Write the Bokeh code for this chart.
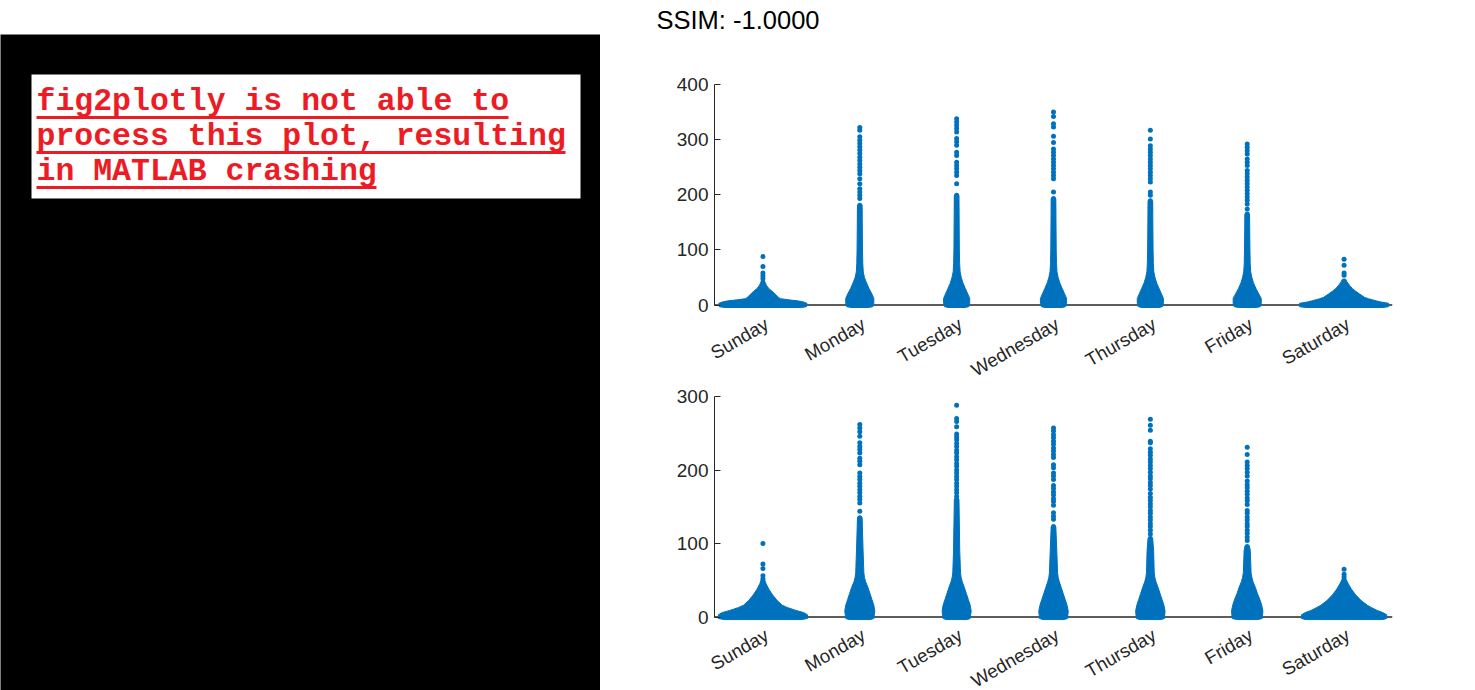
from math import pi
from bokeh.embed import file_html
from bokeh.resources import INLINE
from bokeh.layouts import row, column
from bokeh.models import ColumnDataSource, Div, FixedTicker, LinearAxis, Range1d, Span
from bokeh.plotting import figure
from bokeh.core.properties import value

DAYS = ["Sunday", "Monday", "Tuesday", "Wednesday", "Thursday", "Friday", "Saturday"]
TITLE = "SSIM: -1.0000"
NOTE_LINES = ["fig2plotly is not able to", "process this plot, resulting", "in MATLAB crashing"]
TOP_TICKS = [0, 100, 200, 300, 400]
BOTTOM_TICKS = [0, 100, 200, 300]

# dense body outlines: level (data value) -> half width (in day units)
TOP_WEEKEND_Y = [-4.5, -3, 3, 5.5, 7.5, 9.5, 11.5, 14, 20, 25, 30, 36, 42, 47]
TOP_SUN_HW = [0.40, 0.45, 0.455, 0.42, 0.36, 0.26, 0.18, 0.16, 0.125, 0.095, 0.06, 0.035, 0.02, 0.014]
TOP_SAT_HW = [0.40, 0.46, 0.46, 0.38, 0.33, 0.29, 0.25, 0.21, 0.16, 0.12, 0.085, 0.055, 0.03, 0.016]
TOP_WEEK_Y = [-4.5, -3, 3, 12, 20, 30, 40, 50, 60, 75, 100]
TOP_MON_HW = [0.09, 0.135, 0.145, 0.145, 0.125, 0.095, 0.07, 0.048, 0.036, 0.031, 0.028, 0.024]
TOP_TUE_HW = [0.09, 0.125, 0.135, 0.135, 0.115, 0.09, 0.065, 0.048, 0.036, 0.031, 0.028, 0.024]
TOP_WED_HW = [0.09, 0.125, 0.135, 0.135, 0.115, 0.09, 0.065, 0.048, 0.036, 0.031, 0.028, 0.024]
TOP_THU_HW = [0.09, 0.125, 0.135, 0.135, 0.115, 0.09, 0.065, 0.048, 0.036, 0.031, 0.028, 0.024]
TOP_FRI_HW = [0.09, 0.135, 0.145, 0.145, 0.12, 0.09, 0.065, 0.048, 0.036, 0.031, 0.028, 0.024]
TOP_WEEK_NECK = [181, 199, 193, 189, 165]

BOTTOM_WEEKEND_Y = [-3.5, -2, 3, 6, 9, 13, 16, 22, 30, 38, 46, 52]
BOTTOM_SUN_HW = [0.40, 0.46, 0.46, 0.42, 0.34, 0.25, 0.20, 0.15, 0.10, 0.06, 0.03, 0.015]
BOTTOM_SAT_HW = [0.40, 0.44, 0.44, 0.40, 0.34, 0.28, 0.24, 0.18, 0.12, 0.075, 0.04, 0.018]
BOTTOM_WEEK_Y = [-3.5, -2, 8, 16, 24, 32, 40, 48, 54, 60, 90]
BOTTOM_MON_HW = [0.11, 0.145, 0.155, 0.145, 0.125, 0.105, 0.085, 0.06, 0.048, 0.042, 0.034, 0.024]
BOTTOM_TUE_HW = [0.11, 0.14, 0.15, 0.14, 0.12, 0.10, 0.08, 0.058, 0.046, 0.04, 0.032, 0.024]
BOTTOM_WED_HW = [0.11, 0.145, 0.152, 0.14, 0.12, 0.10, 0.08, 0.06, 0.048, 0.042, 0.034, 0.024]
BOTTOM_THU_HW = [0.11, 0.145, 0.152, 0.14, 0.12, 0.10, 0.08, 0.058, 0.046, 0.04, 0.034, 0.024]
BOTTOM_FRI_HW = [0.11, 0.155, 0.162, 0.15, 0.13, 0.105, 0.085, 0.06, 0.048, 0.04, 0.032, 0.024]
BOTTOM_WEEK_NECK = [135, 160, 123, 107, 96]

# individually visible points
TOP_SUN = [88, 70, 58, 53, 48]
TOP_MON = [322, 317, 305, 299, 293, 287, 281, 275, 268, 262, 256, 250, 244, 238, 229, 220, 211, 205, 199, 193, 181, 175, 169, 163]
TOP_TUE = [338, 332, 326, 320, 314, 302, 296, 290, 277, 271, 259, 253, 247, 241, 235, 220, 199, 193, 187, 181, 175]
TOP_WED = [350, 342, 329, 323, 306, 295, 283, 277, 271, 265, 259, 253, 247, 241, 235, 229, 205, 193, 187, 181, 175]
TOP_THU = [317, 301, 289, 283, 277, 271, 265, 259, 253, 247, 241, 235, 229, 223, 205, 199, 189, 183, 177, 171]
TOP_FRI = [292, 286, 280, 274, 265, 259, 253, 244, 238, 232, 226, 220, 214, 208, 202, 196, 190, 183, 174, 165, 159, 153]
TOP_SAT = [83, 72, 58, 54]

BOTTOM_SUN = [100, 72, 66, 56, 52]
BOTTOM_MON = [262, 257, 252, 246, 237, 232, 228, 223, 216, 212, 207, 196, 191, 187, 182, 178, 173, 169, 164, 160, 155, 144, 135, 130]
BOTTOM_TUE = [288, 270, 266, 259, 249, 245, 241, 236, 232, 227, 223, 218, 214, 209, 205, 200, 196, 191, 187, 182, 178, 173, 169, 164, 160]
BOTTOM_WED = [257, 253, 248, 244, 239, 235, 230, 226, 221, 217, 207, 203, 196, 192, 187, 179, 175, 170, 166, 161, 157, 152, 142, 137, 133, 123]
BOTTOM_THU = [269, 261, 254, 239, 237, 229, 224, 220, 215, 211, 206, 202, 197, 192, 188, 183, 179, 174, 168, 163, 159, 154, 150, 145, 141, 136, 132, 127, 123, 118, 113, 107]
BOTTOM_FRI = [231, 221, 211, 206, 202, 197, 192, 185, 180, 176, 171, 167, 162, 158, 153, 145, 141, 136, 132, 127, 123, 118, 114, 109, 104, 96]
BOTTOM_SAT = [65, 58, 54]

BLUE = "#0072BD"
INK = "#262626"
FONT = "Liberation Sans"
LABEL_NUDGE = 0.04


def swarm_panel(height, border_top, border_bottom, y_end, y_start, ticks, bodies, points, standoff, margin):
    p = figure(width=875, height=height, frame_width=678, frame_height=225,
               x_range=Range1d(0.5, 7.5), y_range=Range1d(y_start, y_end),
               min_border_left=114, min_border_right=83,
               min_border_top=border_top, min_border_bottom=border_bottom,
               output_backend="svg", toolbar_location=None, x_axis_location=None,
               y_axis_location=None, outline_line_color=None, background_fill_color=None,
               border_fill_color=None, margin=margin)
    p.grid.visible = False
    p.add_layout(Span(location=0, dimension="width", line_color=INK, line_width=1.4, level="underlay"))

    xs, ys = [], []
    for pos, levels, widths in bodies:
        xs.append([pos - w for w in widths] + [pos + w for w in reversed(widths)])
        ys.append(list(levels) + list(reversed(levels)))
    p.patches(xs, ys, fill_color=BLUE, line_color=BLUE, line_width=1)

    px, py = [], []
    for pos, vals in points:
        px += [pos] * len(vals)
        py += vals
    p.scatter(x="x", y="y", source=ColumnDataSource(dict(x=px, y=py)), size=5,
              fill_color=BLUE, line_color=None)

    label_ticks = [i + 1 + LABEL_NUDGE for i in range(len(DAYS))]
    xaxis = LinearAxis(ticker=FixedTicker(ticks=label_ticks),
                       major_label_overrides=dict(zip(label_ticks, DAYS)),
                       major_label_orientation=pi / 6)
    yaxis = LinearAxis(ticker=FixedTicker(ticks=ticks), bounds=(0, y_end))
    for ax in (xaxis, yaxis):
        ax.axis_line_color = INK
        ax.axis_line_width = 1
        ax.major_tick_line_color = INK
        ax.major_tick_in = 6
        ax.major_tick_out = 0
        ax.minor_tick_line_color = None
        ax.major_label_text_font = FONT
        ax.major_label_text_color = INK
    xaxis.axis_line_color = None
    xaxis.major_tick_line_color = None
    xaxis.major_label_text_font_size = "18.6px"
    yaxis.major_label_text_font_size = "19px"
    xaxis.major_label_standoff = standoff
    yaxis.major_label_standoff = 6
    p.add_layout(xaxis, "below")
    p.add_layout(yaxis, "left")
    return p


# strip above the first panel that carries the figure title (ranges follow the picture's pixels)
title_strip = figure(width=875, height=34, x_range=Range1d(600, 1475), y_range=Range1d(34, 0),
                     min_border_left=0, min_border_right=0, min_border_top=0, min_border_bottom=0,
                     output_backend="svg", toolbar_location=None,
                     x_axis_location=None, y_axis_location=None, outline_line_color=None,
                     background_fill_color="white")
title_strip.grid.visible = False
title_strip.text(x=[656], y=[19], text=[TITLE], text_font=value(FONT), text_font_size="25.5px",
                 text_color="black", text_baseline="alphabetic", text_align="left")

top = swarm_panel(356, 50, 81, 400, -8.16, TOP_TICKS,
                  [(1, TOP_WEEKEND_Y, TOP_SUN_HW),
                   (2, TOP_WEEK_Y + [TOP_WEEK_NECK[0]], TOP_MON_HW),
                   (3, TOP_WEEK_Y + [TOP_WEEK_NECK[1]], TOP_TUE_HW),
                   (4, TOP_WEEK_Y + [TOP_WEEK_NECK[2]], TOP_WED_HW),
                   (5, TOP_WEEK_Y + [TOP_WEEK_NECK[3]], TOP_THU_HW),
                   (6, TOP_WEEK_Y + [TOP_WEEK_NECK[4]], TOP_FRI_HW),
                   (7, TOP_WEEKEND_Y, TOP_SAT_HW)],
                  [(1, TOP_SUN), (2, TOP_MON), (3, TOP_TUE), (4, TOP_WED),
                   (5, TOP_THU), (6, TOP_FRI), (7, TOP_SAT)], 13, 0)

bottom = swarm_panel(325, 19, 81, 300, -6.12, BOTTOM_TICKS,
                     [(1, BOTTOM_WEEKEND_Y, BOTTOM_SUN_HW),
                      (2, BOTTOM_WEEK_Y + [BOTTOM_WEEK_NECK[0]], BOTTOM_MON_HW),
                      (3, BOTTOM_WEEK_Y + [BOTTOM_WEEK_NECK[1]], BOTTOM_TUE_HW),
                      (4, BOTTOM_WEEK_Y + [BOTTOM_WEEK_NECK[2]], BOTTOM_WED_HW),
                      (5, BOTTOM_WEEK_Y + [BOTTOM_WEEK_NECK[3]], BOTTOM_THU_HW),
                      (6, BOTTOM_WEEK_Y + [BOTTOM_WEEK_NECK[4]], BOTTOM_FRI_HW),
                      (7, BOTTOM_WEEKEND_Y, BOTTOM_SAT_HW)],
                     [(1, BOTTOM_SUN), (2, BOTTOM_MON), (3, BOTTOM_TUE), (4, BOTTOM_WED),
                      (5, BOTTOM_THU), (6, BOTTOM_FRI), (7, BOTTOM_SAT)], 12, (-15, 0, 0, 0))

# left panel: black image with the white notice box, ranges follow the picture's pixels
note = figure(width=600, height=690, x_range=Range1d(0, 600), y_range=Range1d(690, 34),
              min_border_left=0, min_border_right=0, min_border_top=34, min_border_bottom=0,
              output_backend="svg", toolbar_location=None, x_axis_location=None,
              y_axis_location=None, outline_line_color=None, background_fill_color="black")
note.grid.visible = False
note.quad(left=[31], right=[580], top=[74], bottom=[198], fill_color="white", line_color=None)
RED = "#ED1C24"
note.text(x=[36, 36, 36], y=[101, 136, 171], text=NOTE_LINES, text_font=value("Liberation Mono"),
          text_font_size="31.5px", text_font_style="bold", text_color=RED,
          text_baseline="alphabetic", text_align="left")
note.segment(x0=[36, 36, 36], x1=[508, 565, 376], y0=[117, 152, 187], y1=[117, 152, 187],
             line_color=RED, line_width=3)

panels = column(top, bottom, spacing=0)
page = row(note, column(title_strip, panels, spacing=0), spacing=0)
open("out.html", "w").write(file_html(page, INLINE))
